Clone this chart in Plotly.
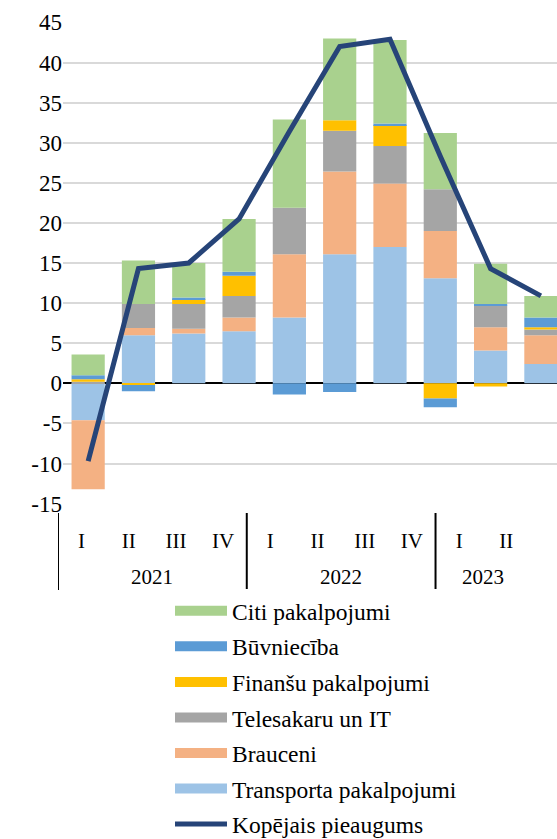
import plotly.graph_objects as go

years = ["2021"] * 4 + ["2022"] * 4 + ["2023"] * 2
quarters = ["I", "II", "III", "IV", "I", "II", "III", "IV", "I", "II"]

transports = [-4.6, 6.0, 6.2, 6.5, 8.2, 16.1, 17.0, 13.1, 4.1, 2.4]
brauceni = [-8.6, 0.9, 0.6, 1.7, 7.9, 10.3, 7.9, 5.9, 2.9, 3.6]
telesakaru = [0.2, 3.0, 3.1, 2.7, 5.8, 5.1, 4.7, 5.2, 2.7, 0.7]
finansu = [0.3, -0.2, 0.6, 2.5, 0.0, 1.3, 2.6, -1.9, -0.4, 0.3]
buvnieciba = [0.5, -0.8, 0.2, 0.5, -1.4, -1.1, 0.2, -1.1, 0.2, 1.2]
citi = [2.6, 5.4, 4.3, 6.6, 11.0, 10.2, 10.4, 7.0, 5.0, 2.7]
kopejais = [-9.7, 14.3, 15.0, 20.5, 31.4, 42.0, 42.9, 28.3, 14.3, 10.9]

y_ticks = list(range(-15, 50, 5))
y_labels = [str(v) for v in y_ticks]

series = [
    ("Transporta pakalpojumi", transports, "#9DC3E6"),
    ("Brauceni", brauceni, "#F4B183"),
    ("Telesakaru un IT", telesakaru, "#A5A5A5"),
    ("Finanšu pakalpojumi", finansu, "#FFC000"),
    ("Būvniecība", buvnieciba, "#5B9BD5"),
    ("Citi pakalpojumi", citi, "#A9D18E"),
]
line_color = "#264478"
font = "Liberation Serif"

fig = go.Figure()

for name, vals, color in series:
    fig.add_trace(go.Bar(x=[years, quarters], y=vals, name=name, legendgroup=name,
                         showlegend=False, marker=dict(color=color, line_width=0)))

fig.add_trace(go.Scatter(x=[years, quarters], y=kopejais, name="Kopējais pieaugums",
                         legendgroup="total", legendrank=2000, mode="lines",
                         line=dict(color=line_color, width=5)))

# legend entries drawn as wide rectangles like the original
for i, (name, vals, color) in enumerate(reversed(series)):
    fig.add_trace(go.Scatter(x=[None], y=[None], mode="lines", name=name,
                             legendgroup=name, legendrank=1000 + i,
                             line=dict(color=color, width=12)))

# year groups for the category axis underneath (a bit narrower than the bars, as in the original)
groups = []
for idx, yr in enumerate(years):
    if not groups or groups[-1][0] != yr:
        groups.append([yr, idx, idx])
    else:
        groups[-1][2] = idx

for yr, first, last in groups:
    fig.add_annotation(x=(first + last) / 2, xref="x2", y=(504 - 577) / 482, yref="paper",
                       text=yr, showarrow=False, font=dict(size=21), yanchor="middle")
    fig.add_shape(type="line", xref="x2", yref="paper", x0=first - 0.5, x1=first - 0.5,
                  y0=(504 - 513) / 482, y1=(504 - 590) / 482,
                  line=dict(color="black", width=2))

fig.update_layout(
    width=557, height=839,
    margin=dict(l=58, r=0, t=22, b=335),
    barmode="relative", bargap=0.34,
    plot_bgcolor="white", paper_bgcolor="white",
    font=dict(family=font, size=23, color="black"),
    showlegend=True,
    legend=dict(x=(170 - 58) / 499, xref="paper", y=1 - 589 / 839, yref="container",
                xanchor="left", yanchor="top", traceorder="grouped",
                tracegroupgap=2, itemwidth=52, font=dict(size=23.5)),
    xaxis=dict(type="multicategory", domain=[5 / 499, 1], range=[-0.5, 9.32],
               showgrid=False, showticklabels=False, showdividers=False),
    yaxis=dict(range=[-15.05, 45.05], tickvals=y_ticks, ticktext=y_labels,
               showgrid=True, gridcolor="#d9d9d9", gridwidth=1.5,
               zeroline=True, zerolinecolor="black", zerolinewidth=2,
               ticklabelstandoff=0, showline=False, tickfont=dict(size=23)),
    xaxis2=dict(domain=[0, 0.941], range=[-0.5, 9.45], anchor="y2",
                tickvals=list(range(len(quarters))), ticktext=quarters,
                showgrid=False, zeroline=False, ticks="",
                ticklabelstandoff=22, tickfont=dict(size=21)),
    yaxis2=dict(domain=[0, 0.001], visible=False, showgrid=False, zeroline=False),
)

# the page's default body margin would shift the whole figure by 8px
fig.write_html("out.html", config={"displayModeBar": False},
               post_script="document.body.style.margin = '0';")
